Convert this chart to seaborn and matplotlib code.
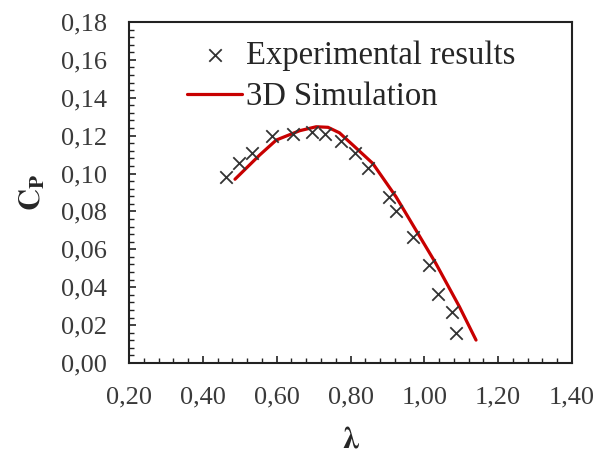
import numpy as np
import pandas as pd
import matplotlib
matplotlib.use("Agg")
import matplotlib.pyplot as plt
from matplotlib.ticker import MultipleLocator, FuncFormatter
import seaborn as sns

# Experimental power coefficient vs tip speed ratio
exp_lambda = [0.464, 0.498, 0.534, 0.586, 0.644, 0.696, 0.730, 0.775, 0.811,
              0.847, 0.905, 0.923, 0.970, 1.012, 1.036, 1.075, 1.086]
exp_cp = [0.098, 0.1054, 0.111, 0.1198, 0.1209, 0.1218, 0.1209, 0.1173, 0.1107,
          0.1028, 0.0878, 0.080, 0.0667, 0.0517, 0.0364, 0.0271, 0.0156]

# 3D CFD simulation curve
sim_lambda = [0.487, 0.554, 0.599, 0.662, 0.707, 0.739, 0.770, 0.806, 0.860,
              0.923, 0.950, 1.031, 1.095, 1.140]
sim_cp = [0.097, 0.1098, 0.1177, 0.1226, 0.1247, 0.1244, 0.1215, 0.1151, 0.1054,
          0.0878, 0.079, 0.0526, 0.0297, 0.0121]

exp_label = "Experimental results"
sim_label = "3D Simulation"

sns.set_theme(style="white")
plt.rcParams["font.family"] = ["Liberation Serif", "DejaVu Serif"]
plt.rcParams["mathtext.fontset"] = "stix"

exp_df = pd.DataFrame({"lam": exp_lambda, "cp": exp_cp})
sim_df = pd.DataFrame({"lam": sim_lambda, "cp": sim_cp})

fig = plt.figure(figsize=(6.03, 4.57), dpi=100)
ax = fig.add_axes([0.214, 0.2057, 0.7346, 0.7462])

sns.lineplot(data=sim_df, x="lam", y="cp", ax=ax, color="#C80000",
             linewidth=2.3, sort=False, label=sim_label, legend=False)
sns.scatterplot(data=exp_df, x="lam", y="cp", ax=ax, marker="x", s=80,
                color="#333333", linewidth=1.3, label=exp_label, legend=False,
                zorder=3)

ax.set_xlim(0.2, 1.4)
ax.set_ylim(0.0, 0.18)
ax.xaxis.set_major_locator(MultipleLocator(0.2))
ax.xaxis.set_minor_locator(MultipleLocator(0.04))
ax.yaxis.set_major_locator(MultipleLocator(0.02))
ax.yaxis.set_minor_locator(MultipleLocator(0.004))
comma = FuncFormatter(lambda v, p: f"{v:.2f}".replace(".", ","))
ax.xaxis.set_major_formatter(comma)
ax.yaxis.set_major_formatter(comma)

ax.tick_params(axis="both", which="both", direction="in", colors="#222222",
               labelcolor="#3a3a3a", labelsize=19, bottom=True, left=True,
               top=False, right=False)
ax.tick_params(axis="both", which="major", length=5, width=1.2)
ax.tick_params(axis="both", which="minor", length=3.5, width=1.0)
ax.tick_params(axis="y", which="both", pad=16)
ax.tick_params(axis="x", which="both", pad=17)

for side in ["left", "right", "top", "bottom"]:
    ax.spines[side].set_visible(True)
    ax.spines[side].set_color("#222222")
    ax.spines[side].set_linewidth(1.5)

ax.set_xlabel(r"$\mathbf{\lambda}$", fontsize=22, labelpad=12)
ax.set_ylabel(r"$\mathbf{C}_\mathbf{P}$", fontsize=22, labelpad=9)

scatter_handle = ax.collections[-1]
line_handle = ax.lines[0]
ax.legend(handles=[scatter_handle, line_handle], labels=[exp_label, sim_label],
          loc="upper left", bbox_to_anchor=(0.131, 0.947), frameon=False,
          fontsize=23.5, handlelength=1.69, handletextpad=0.12, borderpad=0,
          borderaxespad=0, labelspacing=0.34, scatterpoints=1)

fig.savefig("out.png", dpi=100)
